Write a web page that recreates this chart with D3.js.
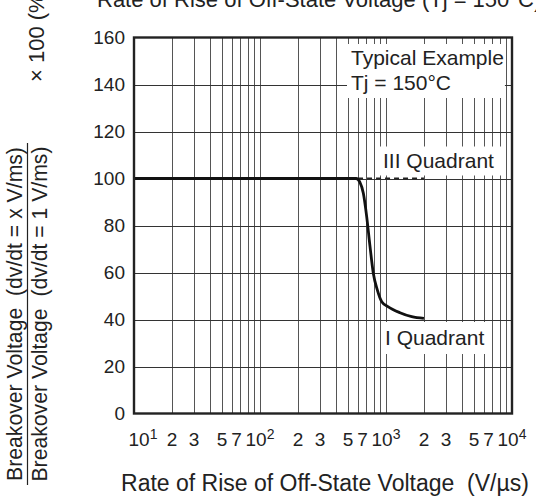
<!DOCTYPE html>
<html><head><meta charset="utf-8">
<script src="https://cdn.jsdelivr.net/npm/d3@7"></script>
<style>
html,body{margin:0;padding:0;background:#fff;}
svg{display:block;font-family:"Liberation Sans",Arial,Helvetica,sans-serif;}
</style></head>
<body><svg id="c" width="536" height="500"></svg>
<script>
// ---- data ----
const xTickValues = [10,20,30,50,70,100,200,300,500,700,1000,2000,3000,5000,7000,10000];
const xTickBase   = ["10","2","3","5","7","10","2","3","5","7","10","2","3","5","7","10"];
const xTickExp    = ["1","","","","","2","","","","","3","","","","","4"];
const yTickValues = [0,20,40,60,80,100,120,140,160];
const gridMultipliers = [2,3,4,5,6,7,8,9];
const gridDecades = [10,100,1000];
// I Quadrant curve (solid)
const quadIX = [10,580,620,661,703,747,793,853,925,1043,1291,1600,2000];
const quadIY = [100,100,98.5,93.7,83.7,71,59.7,52.6,47.6,45.4,42.9,41.2,40.5];
// III Quadrant (dashed continuation)
const quadIIIX = [600,2000];
const quadIIIY = [100,100];
const titleTop = "Rate of Rise of Off-State Voltage (Tj = 150°C)";
const xTitle = "Rate of Rise of Off-State Voltage\u00A0\u00A0(V/\u00B5s)";
const yNum = "Breakover Voltage\u00A0\u00A0(dv/dt = x V/ms)";
const yDen = "Breakover Voltage\u00A0\u00A0(dv/dt = 1 V/ms)";
const yMul = "\u00D7 100 (%)";
const note1 = ["Typical Example","Tj = 150°C"];
const note2 = "III Quadrant";
const note3 = "I Quadrant";

// ---- layout ----
const svg = d3.select("#c");
const L=134, R=512, T=37.5, B=413.5;
const x = d3.scaleLog().domain([10,10000]).range([L,R]);
const y = d3.scaleLinear().domain([0,160]).range([B,T]);

// grid
const gx = [];
gridDecades.forEach(d=>gridMultipliers.forEach(m=>gx.push(d*m)));
gridDecades.slice(1).forEach(d=>gx.push(d));
const grid = svg.append("g");
grid.selectAll("line.vx").data(gx).join("line")
  .attr("x1",d=>Math.round(x(d))+0.5).attr("x2",d=>Math.round(x(d))+0.5)
  .attr("y1",T).attr("y2",B).attr("stroke","#555").attr("stroke-width",1);
grid.selectAll("line.hy").data(yTickValues.slice(1,-1)).join("line")
  .attr("y1",d=>Math.round(y(d))+0.5).attr("y2",d=>Math.round(y(d))+0.5)
  .attr("x1",L).attr("x2",R).attr("stroke","#333").attr("stroke-width",1);

// labels with white boxes
function boxLabel(lines, xPos, yBase, lineH, pad){
  const g = svg.append("g");
  const rect = g.append("rect").attr("fill","#fff");
  const t = g.append("text").attr("font-size",21).attr("fill","#222");
  lines.forEach((s,i)=>t.append("tspan").attr("x",xPos).attr("y",yBase+i*lineH).text(s));
  const bb = t.node().getBBox();
  rect.attr("x",bb.x-pad[3]).attr("y",bb.y-pad[0]).attr("width",bb.width+pad[1]+pad[3]).attr("height",bb.height+pad[0]+pad[2]);
}

// curves
const line = d3.line().x(d=>x(d[0])).y(d=>y(d[1])).curve(d3.curveMonotoneX);
svg.append("path").datum(quadIIIX.map((v,i)=>[v,quadIIIY[i]]))
  .attr("d",line).attr("fill","none").attr("stroke","#222").attr("stroke-width",2).attr("stroke-dasharray","5,4");
svg.append("path").datum(quadIX.map((v,i)=>[v,quadIY[i]]))
  .attr("d",line).attr("fill","none").attr("stroke","#111").attr("stroke-width",2.8).attr("stroke-linejoin","round");

boxLabel(note1, 351, 65, 25, [2,1,4,4]);
boxLabel([note2], 383, 167.5, 0, [2,8,4,3]);
boxLabel([note3], 385, 345, 0, [4,4,5,3]);

// frame
svg.append("rect").attr("x",L).attr("y",T).attr("width",R-L).attr("height",B-T)
  .attr("fill","none").attr("stroke","#222").attr("stroke-width",2.4);

// y tick labels
svg.selectAll("text.yt").data(yTickValues).join("text")
  .attr("x",125).attr("y",d=>y(d)+6.5).attr("text-anchor","end")
  .attr("font-size",19).attr("fill","#222").text(d=>d);

// x tick labels
const xt = svg.selectAll("text.xt").data(xTickValues).join("text")
  .attr("x",(d,i)=>x(d) + (i===0?9:0) + (xTickBase[i]==="7"?-4:0))
  .attr("y",446).attr("text-anchor","middle").attr("font-size",19).attr("fill","#222");
xt.append("tspan").text((d,i)=>xTickBase[i]);
xt.filter((d,i)=>xTickExp[i]!=="").append("tspan").attr("dy",-7).attr("font-size",14)
  .text(d=>xTickExp[xTickValues.indexOf(d)]);

// x title
svg.append("text").attr("x",325).attr("y",491).attr("text-anchor","middle")
  .attr("font-size",23).attr("fill","#222").text(xTitle);

// top clipped title
svg.append("text").attr("x",97).attr("y",7).attr("font-size",22).attr("fill","#222").text(titleTop);

// y title (fraction)
const cy = 314;
svg.append("text").attr("transform",`translate(22,${cy}) rotate(-90)`).attr("text-anchor","middle")
  .attr("font-size",21.2).attr("fill","#222").text(yNum);
svg.append("line").attr("x1",27.5).attr("x2",27.5).attr("y1",143).attr("y2",485)
  .attr("stroke","#222").attr("stroke-width",1.2);
svg.append("text").attr("transform",`translate(47,${cy}) rotate(-90)`).attr("text-anchor","middle")
  .attr("font-size",21.2).attr("fill","#222").text(yDen);
svg.append("text").attr("transform",`translate(44,82) rotate(-90)`).attr("text-anchor","start")
  .attr("font-size",22).attr("fill","#222").text(yMul);
</script></body></html>
